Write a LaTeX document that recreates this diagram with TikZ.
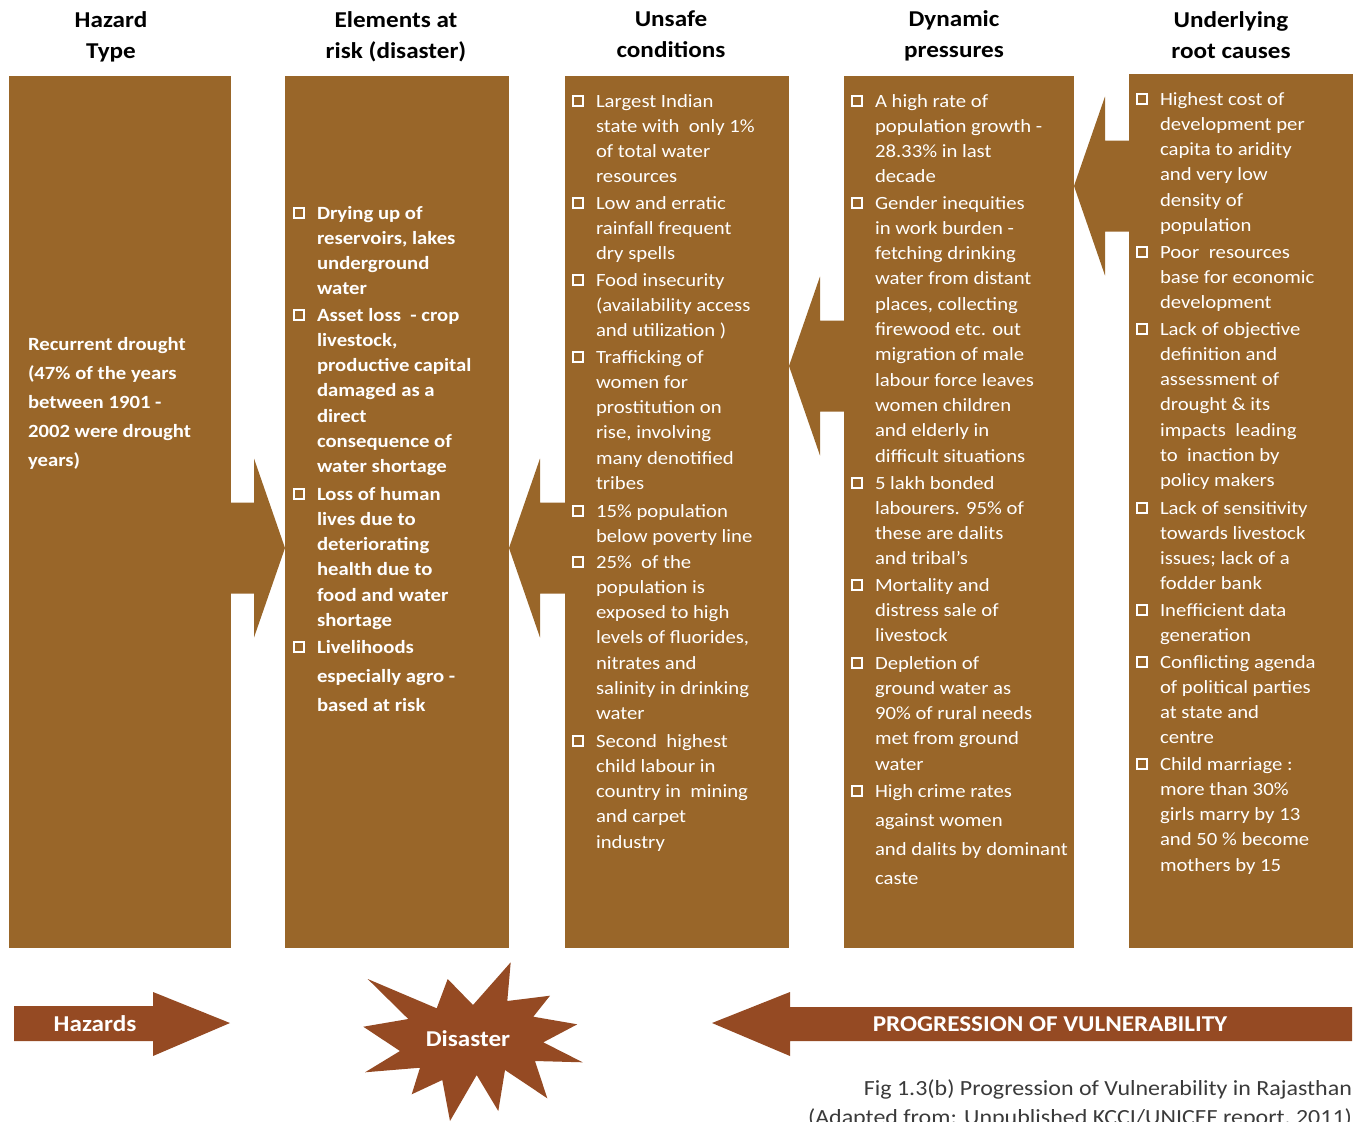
\documentclass[tikz,border=0pt]{standalone}
\usepackage{fontspec}
\setmainfont{Carlito}[FakeStretch=1.11]
\usetikzlibrary{calc}
\definecolor{colbrown}{HTML}{996629}
\definecolor{rust}{HTML}{954A23}
\definecolor{capgray}{HTML}{3A3A3A}

% paragraph of explicit lines, first baseline = node base
\newcommand{\colpara}[3]{\parbox[t]{#1}{\fontsize{18.67}{#2}\selectfont\raggedright #3}}
% bulleted item: name, x, y of first line, line spacing, text
\newcommand{\bitem}[5]{%
  \node[bodytxt] (#1) at (#2,#3+6) {\colpara{215pt}{#4}{#5}};
  \draw[bulletsq] ($(#1.base west)+(-23,-11)$) rectangle ++(10,10);}
% block arrow pointing left: from node #1 (right) to node #2 (left) at height #3
\newcommand{\blockL}[3]{%
  \fill[colbrown] (#2.east |- 0,#3) -- ++(31,-89.5) -- ++(0,44) -- ($(#1.west |- 0,#3)+(1,-45.5)$)
    -- ++(0,91) -- ($(#2.east |- 0,#3)+(31,45.5)$) -- ++(0,44) -- cycle;}
% block arrow pointing right: from node #1 (left) to node #2 (right) at height #3
\newcommand{\blockR}[3]{%
  \fill[colbrown] (#2.west |- 0,#3) -- ++(-31,-89.5) -- ++(0,44) -- ($(#1.east |- 0,#3)+(-1,-45.5)$)
    -- ++(0,91) -- ($(#2.west |- 0,#3)+(-31,45.5)$) -- ++(0,44) -- cycle;}

\begin{document}
\begin{tikzpicture}[x=1pt, y=-1pt,
  every node/.style={inner sep=0pt, outer sep=0pt},
  column/.style={fill=colbrown, draw=none, anchor=north west},
  bodytxt/.style={text=white, anchor=base west},
  bulletsq/.style={draw=white, line width=1.3pt},
  headtxt/.style={text=black, anchor=base, font=\fontsize{22.67}{31.5}\selectfont\bfseries},
  bandtxt/.style={text=white, font=\fontsize{22.67}{27}\selectfont\bfseries}]

\useasboundingbox (0,0) rectangle (1358,1122);

% columns
\node[column, minimum width=222pt, minimum height=872pt] (c1) at (9,76) {};
\node[column, minimum width=224pt, minimum height=872pt] (c2) at (285,76) {};
\node[column, minimum width=224pt, minimum height=872pt] (c3) at (565,76) {};
\node[column, minimum width=230pt, minimum height=872pt] (c4) at (844,76) {};
\node[column, minimum width=224pt, minimum height=874pt] (c5) at (1129,74) {};

% block arrows between columns
\blockR{c1}{c2}{548}
\blockL{c3}{c2}{548}
\blockL{c4}{c3}{366}
\blockL{c5}{c4}{186}

% headings
\node[headtxt] (h1) at (111,27) {\parbox[t]{220pt}{\centering Hazard\\Type}};
\node[headtxt] (h2) at (396,27) {\parbox[t]{220pt}{\centering Elements at\\risk (disaster)}};
\node[headtxt] (h3) at (671,26) {\parbox[t]{220pt}{\centering Unsafe\\conditions}};
\node[headtxt] (h4) at (954,26) {\parbox[t]{220pt}{\centering Dynamic\\pressures}};
\node[headtxt] (h5) at (1231,27) {\parbox[t]{220pt}{\centering Underlying\\root causes}};

% hazard type
\node[bodytxt] (t1) at (28,350) {\colpara{200pt}{29}{\bfseries Recurrent drought\\(47\% of the years\\between 1901 -\\2002 were drought\\years)}};

% elements at risk
\bitem{b21}{317}{213}{25.3}{\bfseries Drying up of\\reservoirs, lakes\\underground\\water}
\bitem{b22}{317}{315}{25.3}{\bfseries Asset loss\ \ - crop\\livestock,\\productive capital\\damaged as a\\direct\\consequence of\\water shortage}
\bitem{b23}{317}{494}{25.3}{\bfseries Loss of human\\lives due to\\deteriorating\\health due to\\food and water\\shortage}
\bitem{b24}{317}{647}{29}{\bfseries Livelihoods\\especially agro -\\based at risk}

% unsafe conditions
\bitem{b31}{596}{101}{25.3}{Largest Indian\\state with\ \ only 1\%\\of total water\\resources}
\bitem{b32}{596}{203}{25.3}{Low and erratic\\rainfall frequent\\dry spells}
\bitem{b33}{596}{280}{25.3}{Food insecurity\\(availability access\\and utilization )}
\bitem{b34}{596}{357}{25.3}{Trafficking of\\women for\\prostitution on\\rise, involving\\many denotified\\tribes}
\bitem{b35}{596}{511}{25.3}{15\% population\\below poverty line}
\bitem{b36}{596}{562}{25.3}{25\%\ \ of the\\population is\\exposed to high\\levels of fluorides,\\nitrates and\\salinity in drinking\\water}
\bitem{b37}{596}{741}{25.3}{Second\ \ highest\\child labour in\\country in\ \ mining\\and carpet\\industry}

% dynamic pressures
\bitem{b41}{875}{101}{25.3}{A high rate of\\population growth -\\28.33\% in last\\decade}
\bitem{b42}{875}{203}{25.3}{Gender inequities\\in work burden -\\fetching drinking\\water from distant\\places, collecting\\firewood etc. out\\migration of male\\labour force leaves\\women children\\and elderly in\\difficult situations}
\bitem{b43}{875}{483}{25.3}{5 lakh bonded\\labourers. 95\% of\\these are dalits\\and tribal’s}
\bitem{b44}{875}{585}{25.3}{Mortality and\\distress sale of\\livestock}
\bitem{b45}{875}{663}{25.3}{Depletion of\\ground water as\\90\% of rural needs\\met from ground\\water}
\bitem{b46}{875}{791}{29}{High crime rates\\against women\\and dalits by dominant\\caste}

% underlying root causes
\bitem{b51}{1160}{99}{25.3}{Highest cost of\\development per\\capita to aridity\\and very low\\density of\\population}
\bitem{b52}{1160}{252}{25.3}{Poor\ \ resources\\base for economic\\development}
\bitem{b53}{1160}{329}{25.3}{Lack of objective\\definition and\\assessment of\\drought \& its\\impacts\ \ leading\\to\ \ inaction by\\policy makers}
\bitem{b54}{1160}{508}{25.3}{Lack of sensitivity\\towards livestock\\issues; lack of a\\fodder bank}
\bitem{b55}{1160}{610}{25.3}{Inefficient data\\generation}
\bitem{b56}{1160}{662}{25.3}{Conflicting agenda\\of political parties\\at state and\\centre}
\bitem{b57}{1160}{764}{25.3}{Child marriage :\\more than 30\%\\girls marry by 13\\and 50 \% become\\mothers by 15}

% bottom band: hazards arrow
\fill[rust] (14,1006) -- (153,1006) -- (153,992) -- (230,1023) -- (153,1056) -- (153,1041) -- (14,1041) -- cycle;
\node[bandtxt] (hz) at (95,1024) {Hazards};

% disaster burst
\fill[rust] (367.7,979) -- (436.7,1008.3) -- (447.7,979) -- (473,1005) -- (510.7,962.3)
  -- (507.3,1001) -- (550,995.7) -- (533.3,1016.7) -- (577.3,1024.3) -- (543.3,1042.3)
  -- (582.7,1062.3) -- (535,1061) -- (547.3,1098.3) -- (505,1070) -- (498.3,1111)
  -- (476.7,1075) -- (450,1121) -- (442.3,1080) -- (411.7,1094.3) -- (420,1067.7)
  -- (365,1072.3) -- (400,1051) -- (363.3,1026.7) -- (408.3,1019) -- cycle;
\node[bandtxt] (ds) at (468,1039) {Disaster};

% progression of vulnerability arrow
\fill[rust] (1352,1007) -- (790,1007) -- (790,992) -- (712,1023) -- (790,1056) -- (790,1041) -- (1352,1041) -- cycle;
\node[bandtxt] (pv) at (1050,1024) {PROGRESSION OF VULNERABILITY};

% caption
\node[text=capgray, anchor=base east] (cap) at (1352,1095)
  {\parbox[t]{620pt}{\fontsize{21.6}{29}\selectfont\raggedleft Fig 1.3(b) Progression of Vulnerability in Rajasthan\\(Adapted from: Unpublished KCCI/UNICEF report, 2011)}};
\end{tikzpicture}
\end{document}
